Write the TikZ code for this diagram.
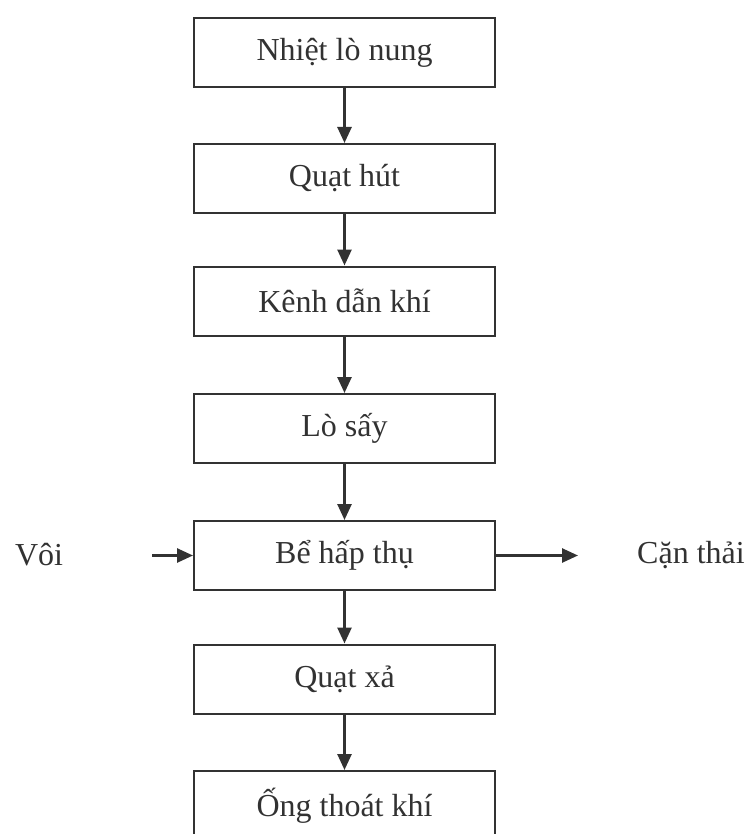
\documentclass[tikz,border=0pt]{standalone}
\usepackage{fontspec}
\setmainfont{Liberation Serif}
\usetikzlibrary{arrows.meta}
\definecolor{inkgray}{RGB}{50,50,50}
\tikzset{
  stepbox/.style={draw=inkgray,line width=2pt,minimum width=301pt,minimum height=69pt,inner sep=0pt,text=inkgray},
  flow/.style={draw=inkgray,fill=inkgray,line width=2.6pt,-{Triangle[length=16pt,width=14pt]}},
  sidelabel/.style={text=inkgray,inner sep=0pt}
}
\begin{document}
\begin{tikzpicture}[x=1pt,y=-1pt,font=\fontsize{32}{36}\selectfont]
  \useasboundingbox (0,0) rectangle (753,834);
  % main column
  \node[stepbox] (nhiet) at (344.5,52.5) {Nhiệt lò nung};
  \node[stepbox] (quathut) at (344.5,178.5) {Quạt hút};
  \node[stepbox] (kenh) at (344.5,301) {Kênh dẫn khí};
  \node[stepbox] (losay) at (344.5,428.5) {Lò sấy};
  \node[stepbox] (be) at (344.5,555.5) {Bể hấp thụ};
  \node[stepbox] (quatxa) at (344.5,679) {Quạt xả};
  \node[stepbox] (ong) at (344.5,805.5) {Ống thoát khí};
  \foreach \a/\b in {nhiet/quathut,quathut/kenh,kenh/losay,losay/be,be/quatxa,quatxa/ong} {\draw[flow] (\a.south)--(\b.north);}
  % side streams
  \node[sidelabel] (voi) at (39,555) {Vôi};
  \node[sidelabel] (can) at (691,555) {Cặn thải};
  \coordinate (voiend) at (152,555.5);
  \coordinate (canend) at (578,555.5);
  \draw[flow] (voiend)--(be.west);
  \draw[flow] (be.east)--(canend);
\end{tikzpicture}
\end{document}
